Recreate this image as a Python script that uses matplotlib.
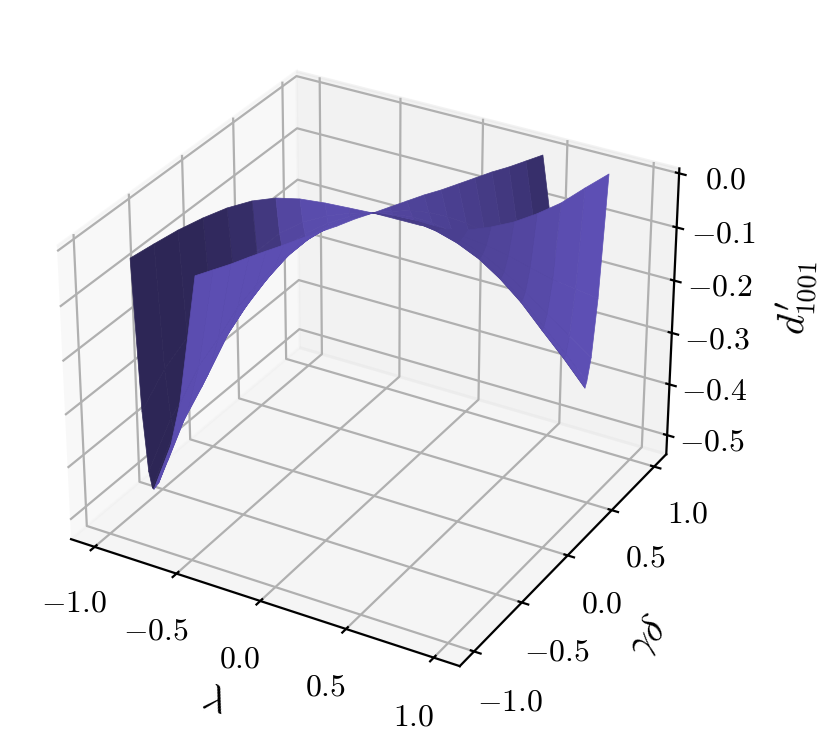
import numpy as np
import matplotlib
matplotlib.use('Agg')
from matplotlib import pyplot as plt
from matplotlib.colors import to_rgb

plt.rcParams['mathtext.fontset'] = 'cm'
plt.rcParams['font.family'] = 'cmr10'
plt.rcParams['axes.formatter.use_mathtext'] = True

# surface, rows go along lambda, columns across the fold
lam_grid = [
    [-1, -1, -1, -1, -1, -1, -1, -1, -1],
    [-.9, -.9, -.9, -.9, -.9, -.9, -.9, -.9, -.9],
    [-.8, -.8, -.8, -.8, -.8, -.8, -.8, -.8, -.8],
    [-.716, -.71, -.705, -.702, -.7, -.7, -.7, -.7, -.7],
    [-.668, -.641, -.62, -.607, -.6, -.6, -.6, -.6, -.6],
    [-.599, -.559, -.53, -.51, -.5, -.5, -.5, -.5, -.5],
    [-.511, -.467, -.433, -.411, -.4, -.4, -.4, -.4, -.4],
    [-.4, -.36, -.33, -.31, -.3, -.3, -.3, -.3, -.3],
    [-.267, -.24, -.22, -.207, -.2, -.2, -.2, -.2, -.2],
    [-.135, -.121, -.111, -.104, -.1, -.1, -.1, -.1, -.1],
    [-.003, -.002, -.001, 0, 0, 0, -.001, -.002, -.003],
    [.1, .1, .1, .1, .1, .094, .082, .063, .039],
    [.2, .2, .2, .2, .2, .188, .164, .129, .081],
    [.3, .3, .3, .3, .3, .282, .247, .194, .124],
    [.4, .4, .4, .4, .4, .377, .332, .263, .172],
    [.5, .5, .5, .5, .5, .472, .415, .329, .215],
    [.6, .6, .6, .6, .6, .566, .497, .395, .258],
    [.7, .7, .7, .7, .7, .66, .58, .461, .301],
    [.767, .78, .79, .797, .8, .755, .665, .53, .35],
    [.797, .838, .869, .89, .9, .849, .748, .596, .394],
    [.832, .899, .95, .983, 1, .944, .831, .663, .438],
]

gamma_delta = [
    [-.725, -.668, -.625, -.596, -.582, -.537, -.447, -.312, -.132],
    [-.654, -.595, -.551, -.522, -.507, -.468, -.389, -.271, -.113],
    [-.583, -.526, -.483, -.454, -.44, -.406, -.337, -.233, -.095],
    [-.48, -.438, -.406, -.385, -.375, -.345, -.286, -.197, -.078],
    [-.328, -.323, -.319, -.316, -.314, -.29, -.242, -.169, -.072],
    [-.2, -.227, -.247, -.26, -.267, -.246, -.204, -.141, -.058],
    [-.112, -.152, -.182, -.202, -.212, -.195, -.162, -.111, -.044],
    [-.06, -.1, -.13, -.15, -.16, -.147, -.122, -.083, -.032],
    [-.034, -.064, -.087, -.102, -.11, -.102, -.086, -.062, -.03],
    [-.02, -.036, -.048, -.056, -.06, -.056, -.048, -.036, -.02],
    [-.007, -.009, -.01, -.011, -.012, -.011, -.01, -.009, -.007],
    [.047, .039, .033, .029, .027, .033, .046, .066, .093],
    [.116, .096, .08, .07, .065, .077, .103, .141, .192],
    [.186, .153, .128, .111, .103, .122, .16, .217, .293],
    [.246, .204, .173, .152, .142, .166, .214, .287, .384],
    [.315, .266, .229, .205, .192, .222, .28, .368, .485],
    [.374, .318, .276, .248, .234, .269, .34, .446, .587],
    [.431, .369, .323, .293, .277, .318, .401, .525, .69],
    [.563, .467, .395, .347, .323, .369, .461, .599, .783],
    [.77, .615, .499, .422, .383, .433, .534, .685, .887],
    [.971, .756, .595, .487, .433, .489, .601, .768, .991],
]

d_1001 = [
    [-.063, -.358, -.482, -.519, -.524, -.52, -.493, -.402, -.185],
    [-.039, -.28, -.381, -.411, -.415, -.413, -.393, -.326, -.168],
    [-.016, -.222, -.309, -.334, -.338, -.336, -.321, -.27, -.151],
    [-.002, -.162, -.229, -.249, -.251, -.25, -.241, -.208, -.132],
    [-.002, -.121, -.171, -.186, -.188, -.187, -.181, -.161, -.113],
    [-.002, -.087, -.122, -.133, -.134, -.134, -.131, -.12, -.095],
    [-.002, -.057, -.08, -.087, -.088, -.087, -.087, -.083, -.076],
    [-.002, -.035, -.049, -.053, -.054, -.054, -.054, -.055, -.058],
    [-.002, -.019, -.027, -.029, -.029, -.029, -.03, -.033, -.039],
    [-.002, -.008, -.011, -.011, -.011, -.011, -.012, -.014, -.019],
    [-.002, -.001, -.001, -.001, -.001, -.001, -.001, -.001, -.002],
    [-.012, -.008, -.006, -.005, -.005, -.005, -.005, -.004, -.002],
    [-.025, -.016, -.013, -.012, -.012, -.011, -.011, -.008, -.002],
    [-.034, -.028, -.026, -.025, -.025, -.025, -.023, -.017, -.002],
    [-.036, -.041, -.043, -.044, -.044, -.044, -.04, -.029, -.002],
    [-.032, -.058, -.069, -.072, -.072, -.071, -.066, -.047, -.002],
    [-.023, -.076, -.099, -.106, -.106, -.105, -.097, -.069, -.002],
    [-.008, -.097, -.134, -.145, -.147, -.145, -.134, -.095, -.002],
    [-.002, -.127, -.179, -.195, -.197, -.195, -.179, -.127, -.002],
    [-.002, -.162, -.229, -.249, -.251, -.249, -.229, -.162, -.002],
    [-.002, -.196, -.278, -.302, -.305, -.302, -.278, -.196, -.002],
]

xy_ticks = [-1, -.5, 0, .5, 1]
xy_labels = ['$-1.0$', '$-0.5$', '$0.0$', '$0.5$', '$1.0$']
z_ticks = [-.5, -.4, -.3, -.2, -.1, 0]
z_labels = ['$-0.5$', '$-0.4$', '$-0.3$', '$-0.2$', '$-0.1$', '$0.0$']

# brightness of each sheet, strip by strip
left_back = [.42, .42, .43, .46, .50, .62, .78, .84, .85, .83]
left_front = [.86, .87, .87, .87, .87, .87, .87, .86, .85, .83]
right_back = [.78, .76, .74, .72, .70, .68, .65, .62, .58, .52]
right_front = [.70, .66, .67, .70, .72, .75, .78, .82, .86, .88]

fig = plt.figure(figsize=(4.16, 3.75), dpi=200)
ax = fig.add_axes([18.8/832, 40.2/750, 692/832, 692/750], projection='3d', computed_zorder=False)
ax.set_xlim(-1.146, 1.146)
ax.set_ylim(-1.146, 1.146)
ax.set_zlim(-0.538, 0.009)
ax.set_xticks(xy_ticks)
ax.set_yticks(xy_ticks)
ax.set_zticks(z_ticks)
ax.set_xticklabels(xy_labels)
ax.set_yticklabels(xy_labels)
ax.set_zticklabels(z_labels)
ax.tick_params(labelsize=11.4)
ax.tick_params(axis='z', pad=2.1)
ax.set_xlabel(r'$\lambda$', fontsize=14, labelpad=4.5)
ax.set_ylabel(r'$\gamma\delta$', fontsize=14, labelpad=5.5)
ax.set_zlabel(r"$d_{1001}^{\prime}$", fontsize=14, labelpad=6.8)

X = np.array(lam_grid)
Y = np.array(gamma_delta)
Z = np.array(d_1001)
base = np.array(to_rgb('slateblue'))


def sheet(rows, cols, shades, order):
    xs, ys, zs = X[rows][:, cols], Y[rows][:, cols], Z[rows][:, cols]
    fc = np.ones(xs.shape + (4,))
    for i, s in enumerate(shades):
        fc[i, :, :3] = base*s
    fc[-1, :, :3] = base*shades[-1]
    surf = ax.plot_surface(xs, ys, zs, facecolors=fc, shade=False, rcount=50, ccount=50, zorder=order)
    surf.set_edgecolor(fc[:-1, :-1].reshape(-1, 4))
    surf.set_linewidth(0.25)


# back sheets first, front sheets over them
sheet(slice(0, 11), slice(0, 5), left_back, 1)
sheet(slice(10, 21), slice(4, 9), right_back, 2)
sheet(slice(0, 11), slice(4, 9), left_front, 3)
sheet(slice(10, 21), slice(0, 5), right_front, 4)

fig.savefig('out.png', dpi=200)
